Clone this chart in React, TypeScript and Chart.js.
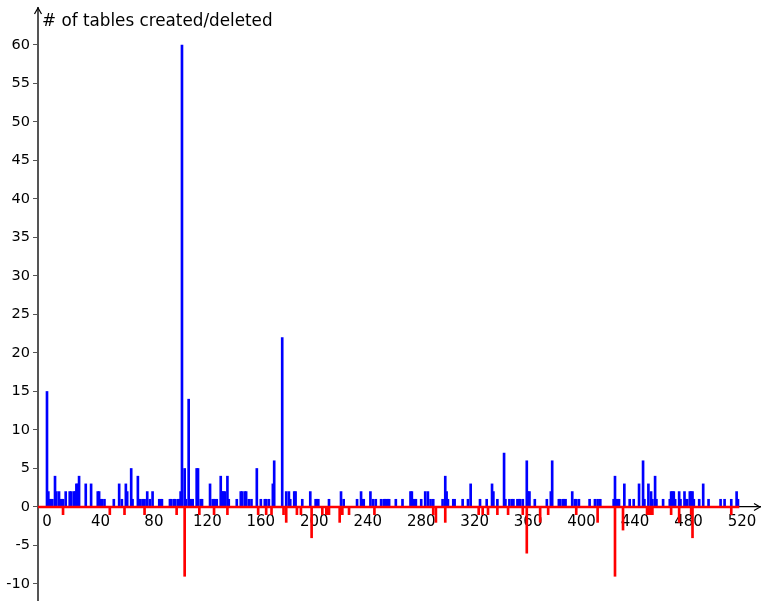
import React, { useEffect, useRef } from "react";
import { Chart, registerables } from "chart.js";

Chart.register(...registerables);

const chartTitle = "# of tables created/deleted";

const createdX = [
  0, 1, 2, 3, 4, 6, 7, 9, 10, 11, 12, 14, 17, 18, 20, 21, 22, 23, 24, 29, 33, 38, 39, 40, 41, 43, 50, 54, 56, 59, 60,
  63, 64, 68, 69, 70, 72, 73, 75, 77, 79, 84, 85, 86, 92, 93, 95, 96, 98, 99, 100, 101, 103, 104, 106, 107, 108, 109,
  112, 113, 115, 116, 122, 124, 125, 126, 127, 130, 131, 132, 133, 135, 136, 142, 145, 146, 148, 149, 151, 153, 157,
  160, 163, 164, 166, 169, 170, 176, 179, 181, 182, 185, 186, 191, 197, 201, 202, 203, 211, 220, 222, 232, 235, 236,
  237, 242, 244, 246, 250, 252, 253, 254, 255, 256, 261, 266, 272, 273, 274, 275, 276, 280, 283, 285, 287, 289, 296,
  298, 299, 300, 304, 305, 311, 315, 317, 324, 329, 333, 334, 337, 342, 343, 346, 348, 349, 352, 353, 354, 356, 359,
  360, 361, 365, 374, 377, 378, 383, 384, 386, 387, 388, 393, 395, 396, 398, 406, 410, 412, 414, 424, 425, 426, 427,
  428, 432, 436, 439, 443, 446, 447, 450, 452, 453, 455, 456, 461, 466, 467, 468, 469, 470, 473, 474, 477, 478, 479,
  481, 482, 483, 484, 488, 491, 495, 504, 507, 512, 516, 517,
];
const createdY = [
  15, 2, 1, 1, 1, 4, 2, 2, 1, 1, 1, 2, 2, 2, 2, 2, 3, 3, 4, 3, 3, 2, 2, 1, 1, 1, 1, 3, 1, 3, 2,
  5, 1, 4, 1, 1, 1, 1, 2, 1, 2, 1, 1, 1, 1, 1, 1, 1, 1, 1, 2, 60, 5, 1, 14, 1, 1, 1,
  5, 5, 1, 1, 3, 1, 1, 1, 1, 4, 2, 2, 2, 4, 1, 1, 2, 2, 2, 2, 1, 1, 5,
  1, 1, 1, 1, 3, 6, 22, 2, 2, 1, 2, 2, 1, 2, 1, 1, 1, 1, 2, 1, 1, 2, 1,
  1, 2, 1, 1, 1, 1, 1, 1, 1, 1, 1, 1, 2, 2, 1, 1, 1, 1, 2, 2, 1, 1, 1,
  4, 2, 1, 1, 1, 1, 1, 3, 1, 1, 3, 2, 1, 7, 1, 1, 1, 1, 1, 1, 1, 1, 6,
  2, 2, 1, 1, 2, 6, 1, 1, 1, 1, 1, 2, 1, 1, 1, 1, 1, 1, 1, 1, 4, 1, 1,
  1, 3, 1, 1, 3, 6, 1, 3, 2, 1, 4, 1, 1, 1, 2, 2, 2, 1, 2, 1, 2, 1, 1,
  2, 2, 2, 1, 1, 3, 1, 1, 1, 1, 2, 1,
];

const deletedX = [
  12, 47, 58, 73, 97, 103, 114, 125, 135, 158, 164, 168, 177, 179, 187, 190, 198, 206, 209, 210, 211, 219, 221, 226,
  245, 289, 291, 298, 323, 326, 330, 337, 345, 356, 359, 369, 375, 396, 412, 425, 431, 449, 450, 451, 452, 453, 467,
  473, 482, 483, 512,
];
const deletedY = [
  -1, -1, -1, -1, -1, -9, -1, -1, -1, -1, -1, -1, -1, -2, -1, -1, -4, -1, -1, -1, -1, -2, -1, -1,
  -1, -1, -2, -2, -1, -1, -1, -1, -1, -1, -6, -2, -1, -1, -2, -9, -3, -1, -1, -1, -1, -1, -1,
  -2, -1, -4, -1,
];

const baselineX = [-6.73, 518];
const xTicks = [0, 40, 80, 120, 160, 200, 240, 280, 320, 360, 400, 440, 480, 520];
const yTicks = [-10, -5, 0, 5, 10, 15, 20, 25, 30, 35, 40, 45, 50, 55, 60];

const X_MIN = -6.73;
const X_MAX = 533.5;
const Y_MIN = -12.08;
const Y_MAX = 64.8;

const FONT = "'DejaVu Sans', sans-serif";

export default function App() {
  const ref = useRef<HTMLCanvasElement | null>(null);

  useEffect(() => {
    if (!ref.current) return;

    const decor = {
      id: "decor",
      afterDraw(chart: any) {
        const { ctx, scales } = chart;
        const xs = scales.x;
        const ys = scales.y;
        const ax = xs.getPixelForValue(X_MIN);
        const ay = ys.getPixelForValue(0);
        const top = ys.getPixelForValue(Y_MAX);
        const right = xs.getPixelForValue(X_MAX);
        ctx.save();
        ctx.strokeStyle = "#000";
        ctx.lineWidth = 1.2;
        ctx.beginPath();
        ctx.moveTo(ax - 3.5, top + 6);
        ctx.lineTo(ax, top);
        ctx.lineTo(ax + 3.5, top + 6);
        ctx.stroke();
        ctx.beginPath();
        ctx.moveTo(right - 6, ay - 3.5);
        ctx.lineTo(right, ay);
        ctx.lineTo(right - 6, ay + 3.5);
        ctx.stroke();
        ctx.fillStyle = "#000";
        ctx.font = `16.8px ${FONT}`;
        ctx.textAlign = "left";
        ctx.textBaseline = "middle";
        ctx.fillText(chartTitle, ax + 4, 22);
        ctx.restore();
      },
    };

    const chart = new Chart(ref.current, {
      type: "bar",
      data: {
        datasets: [
          {
            type: "line",
            data: baselineX.map((x) => ({ x, y: 0 })),
            borderColor: "#ff0000",
            borderWidth: 2.5,
            pointRadius: 0,
            order: 0,
          } as any,
          {
            data: createdX.map((x, i) => ({ x, y: createdY[i] })),
            backgroundColor: "#0000ff",
            borderWidth: 0,
            barThickness: 2,
            grouped: false,
            order: 2,
          } as any,
          {
            data: deletedX.map((x, i) => ({ x, y: deletedY[i] })),
            backgroundColor: "#ff0000",
            borderWidth: 0,
            barThickness: 2,
            grouped: false,
            order: 1,
          } as any,
        ],
      },
      options: {
        animation: false,
        responsive: false,
        maintainAspectRatio: false,
        layout: { padding: { top: 8, right: 3, bottom: 1, left: 0 } },
        plugins: {
          legend: { display: false },
          tooltip: { enabled: false },
          title: { display: false },
        },
        scales: {
          x: {
            type: "linear",
            position: { y: 0 } as any,
            min: X_MIN,
            max: X_MAX,
            offset: false,
            afterBuildTicks: (s: any) => {
              s.ticks = xTicks.map((v) => ({ value: v }));
            },
            grid: { display: true, drawOnChartArea: false, drawTicks: false },
            border: { display: true, color: "#000", width: 1.2 },
            ticks: {
              color: "#000",
              font: { family: FONT, size: 15 },
              padding: 6,
              maxRotation: 0,
              autoSkip: false,
            },
          },
          y: {
            type: "linear",
            position: "left",
            min: Y_MIN,
            max: Y_MAX,
            afterBuildTicks: (s: any) => {
              s.ticks = yTicks.map((v) => ({ value: v }));
            },
            afterFit: (s: any) => {
              s.width = 38;
              s.paddingTop = 0;
              s.paddingBottom = 0;
            },
            grid: { display: true, drawOnChartArea: false, drawTicks: true, tickLength: 5, color: "#555" },
            border: { display: true, color: "#555", width: 2 },
            ticks: {
              color: "#000",
              font: { family: FONT, size: 14.5, lineHeight: 0.2 },
              padding: 3,
              autoSkip: false,
            },
          },
        },
      },
      plugins: [decor],
    } as any);

    return () => chart.destroy();
  }, []);

  return (
    <div style={{ position: "absolute", left: 0, top: 0, width: 763, height: 601 }}>
      <canvas ref={ref} width={763} height={601} style={{ display: "block" }} />
    </div>
  );
}
